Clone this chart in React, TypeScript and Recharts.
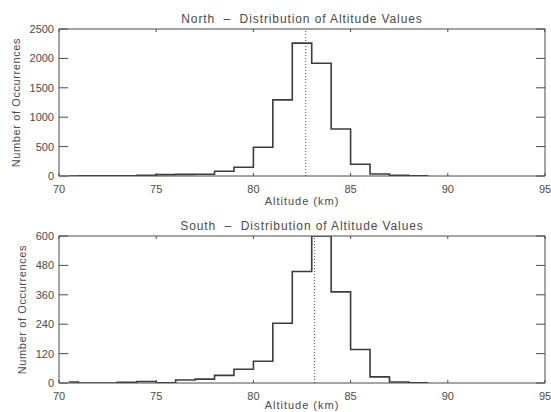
import { LineChart, Line, XAxis, YAxis, ReferenceLine } from 'recharts'

// bin edges in km (first bin is a half bin, as the original step plot draws it)
const binEdges = [70.5, 71, 72, 73, 74, 75, 76, 77, 78, 79, 80, 81, 82, 83, 84, 85, 86, 87, 88, 89]

const northCounts = [0, 2, 3, 5, 12, 23, 28, 30, 80, 150, 490, 1295, 2260, 1918, 800, 200, 34, 10, 3]
const southCounts = [4, 0, 0, 3, 6, 1, 12, 16, 31, 56, 89, 244, 455, 600, 372, 137, 25, 4, 1]

const northMean = 82.69
const southMean = 83.15

const xTicks = [70, 75, 80, 85, 90, 95]
const northTicks = [0, 500, 1000, 1500, 2000, 2500]
const southTicks = [0, 120, 240, 360, 480, 600]

const ink = '#4a4a4a'
const font = '"Liberation Sans", Arial, sans-serif'
const gap = '\u00a0\u00a0'

function toSteps(counts: number[]) {
  // closing point repeats the last count so the last bin gets its width
  return binEdges.map((alt, i) => ({ alt, count: counts[Math.min(i, counts.length - 1)] }))
}

interface PanelProps {
  title: string
  counts: number[]
  yTicks: number[]
  mean: number
  top: number
  yTitleOffset: number
  xTitleOffset: number
}

function Panel({ title, counts, yTicks, mean, top, yTitleOffset, xTitleOffset }: PanelProps) {
  const data = toSteps(counts)
  const yMax = yTicks[yTicks.length - 1]
  const tickStyle = { fill: ink, fontSize: 11, fontFamily: font }
  return (
    <div style={{ position: 'absolute', left: 0, top }}>
      <LineChart width={551} height={212} data={data} margin={{ top: 28, right: 5, bottom: 0, left: 0 }}>
        <XAxis
          xAxisId="bottom"
          dataKey="alt"
          type="number"
          domain={[70, 95]}
          ticks={xTicks}
          allowDataOverflow
          height={36}
          stroke={ink}
          tickSize={-3}
          tickMargin={12}
          tick={tickStyle}
          label={{
            value: 'Altitude (km)',
            position: 'insideBottom',
            offset: xTitleOffset,
            fill: ink,
            fontSize: 11,
            fontFamily: font,
            letterSpacing: 1,
          }}
        />
        <XAxis
          xAxisId="top"
          orientation="top"
          dataKey="alt"
          type="number"
          domain={[70, 95]}
          ticks={xTicks}
          allowDataOverflow
          height={1}
          stroke={ink}
          tickSize={-3}
          tickFormatter={() => ''}
          label={{
            value: title,
            position: 'top',
            offset: 5,
            fill: ink,
            fontSize: 12,
            fontFamily: font,
            letterSpacing: 0.9,
          }}
        />
        <YAxis
          yAxisId="left"
          domain={[0, yMax]}
          ticks={yTicks}
          allowDataOverflow
          width={59}
          stroke={ink}
          tickSize={-9}
          tickMargin={14}
          tick={tickStyle}
          label={{
            value: 'Number of Occurrences',
            angle: -90,
            position: 'insideLeft',
            offset: yTitleOffset,
            fill: ink,
            fontSize: 11,
            fontFamily: font,
            letterSpacing: 0.6,
            style: { textAnchor: 'middle' },
          }}
        />
        <YAxis
          yAxisId="right"
          orientation="right"
          domain={[0, yMax]}
          ticks={yTicks}
          allowDataOverflow
          width={1}
          stroke={ink}
          tickSize={-9}
          tickFormatter={() => ''}
        />
        <ReferenceLine
          xAxisId="bottom"
          yAxisId="left"
          x={mean}
          stroke={ink}
          strokeWidth={1}
          strokeDasharray="1 2"
        />
        <Line
          xAxisId="bottom"
          yAxisId="left"
          type="stepAfter"
          dataKey="count"
          stroke="#3c3c3c"
          strokeWidth={1.6}
          dot={false}
          activeDot={false}
          isAnimationActive={false}
        />
      </LineChart>
    </div>
  )
}

export default function App() {
  return (
    <div style={{ position: 'absolute', left: 0, top: 0, width: 551, height: 412, background: '#fff', overflow: 'hidden' }}>
      <Panel title={`North${gap}–${gap}Distribution of Altitude Values`} counts={northCounts} yTicks={northTicks} mean={northMean} top={0} yTitleOffset={16} xTitleOffset={7} />
      <Panel title={`South${gap}–${gap}Distribution of Altitude Values`} counts={southCounts} yTicks={southTicks} mean={southMean} top={207} yTitleOffset={22} xTitleOffset={10} />
    </div>
  )
}
